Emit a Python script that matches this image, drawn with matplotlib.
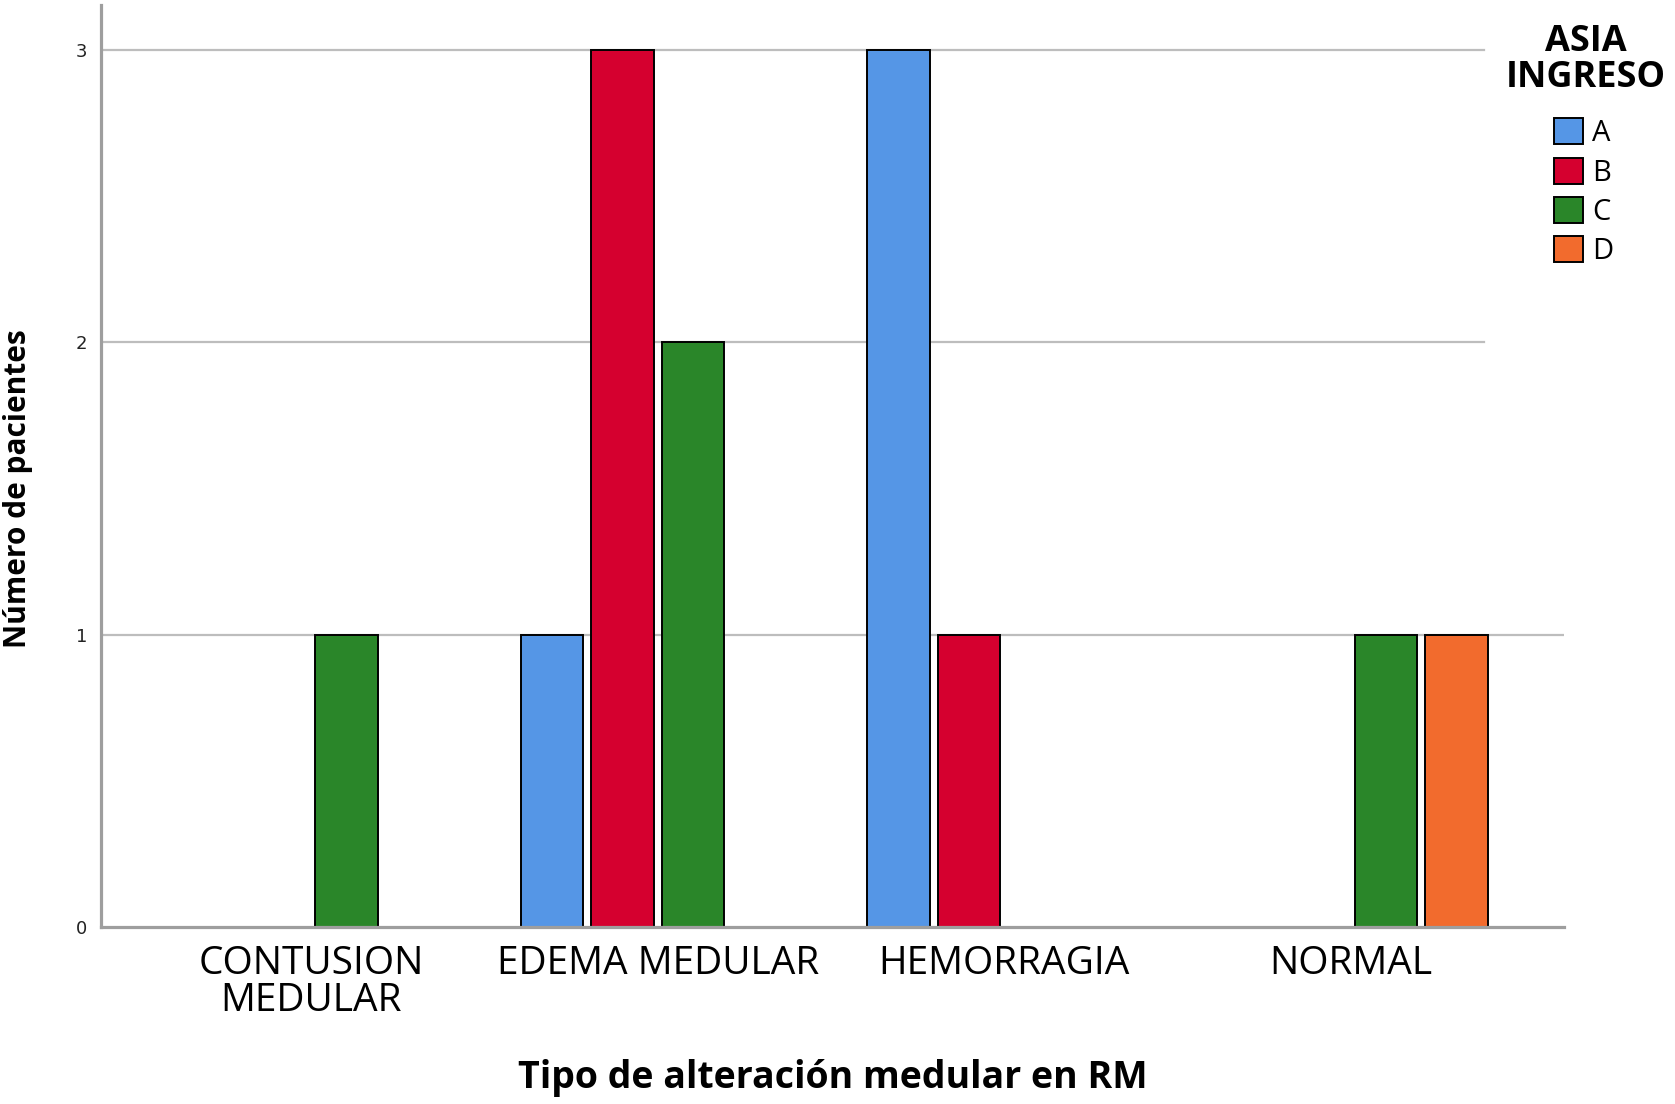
import matplotlib
matplotlib.use("Agg")
import matplotlib.pyplot as plt
import numpy as np
from matplotlib.patches import Patch

categories = ["CONTUSION\nMEDULAR", "EDEMA MEDULAR", "HEMORRAGIA", "NORMAL"]
groups = ["A", "B", "C", "D"]
counts_A = [0, 1, 3, 0]
counts_B = [0, 3, 1, 0]
counts_C = [1, 2, 0, 1]
counts_D = [0, 0, 0, 1]
colors = ["#5596E6", "#D5002F", "#2A8629", "#F26B2D"]
yticks = [0, 1, 2, 3]

series = [counts_A, counts_B, counts_C, counts_D]

fig = plt.figure(figsize=(16.75, 11.04), dpi=100)
ax = fig.add_axes([0.0603, 0.1603, 0.8737, 0.8352])

slot = 0.2035
bar_w = 0.18
x = np.arange(len(categories))
for i, (vals, col) in enumerate(zip(series, colors)):
    pos = x + (i - 1.5) * slot
    v = np.array(vals)
    keep = v > 0
    ax.bar(pos[keep], v[keep], width=bar_w, color=col, edgecolor="black",
           linewidth=1.4, zorder=3)

ax.set_xlim(-0.607, 3.617)
ax.set_ylim(0, 3.154)

# gridlines (upper ones stop at the legend column)
for yv in yticks[1:]:
    ax.axhline(yv, xmin=0, xmax=1 if yv == 1 else 0.945, color="#bdbdbd",
               linewidth=1.6, zorder=1)

for s in ["top", "right"]:
    ax.spines[s].set_visible(False)
for s in ["left", "bottom"]:
    ax.spines[s].set_color("#9e9e9e")
    ax.spines[s].set_linewidth(2.3)
    ax.spines[s].set_zorder(4)

ax.set_yticks(yticks)
ax.set_yticklabels([str(t) for t in yticks], fontsize=13, family="DejaVu Sans",
                   color="#222222")
ax.tick_params(axis="y", length=0, pad=10)
ax.set_xticks(x)
ax.set_xticklabels(categories, fontsize=28, family="Open Sans", linespacing=0.95)
ax.tick_params(axis="x", length=0, pad=13)

ax.set_xlabel("Tipo de alteración medular en RM", fontsize=27, fontweight="bold",
              family="Open Sans", labelpad=28)
fig.text(0.0105, 0.557, "Número de pacientes", rotation=90, fontsize=21.5,
         fontweight="bold", family="Open Sans", ha="center", va="center")

# legend title and entries
fig.text(0.9469, 0.978, "ASIA\nINGRESO", ha="center", va="top", multialignment="center",
         fontsize=26, fontweight="bold", family="Open Sans", linespacing=1.0)
handles = [Patch(facecolor=c, edgecolor="black", linewidth=1.4) for c in colors]
leg = fig.legend(handles, groups, loc="upper left", bbox_to_anchor=(0.9278, 0.893),
                 frameon=False, prop={"family": "Open Sans", "size": 21},
                 handlelength=1.0, handleheight=1.0, labelspacing=0.32,
                 handletextpad=0.3, borderpad=0, borderaxespad=0)

fig.savefig("out.png", dpi=100, facecolor="white")
